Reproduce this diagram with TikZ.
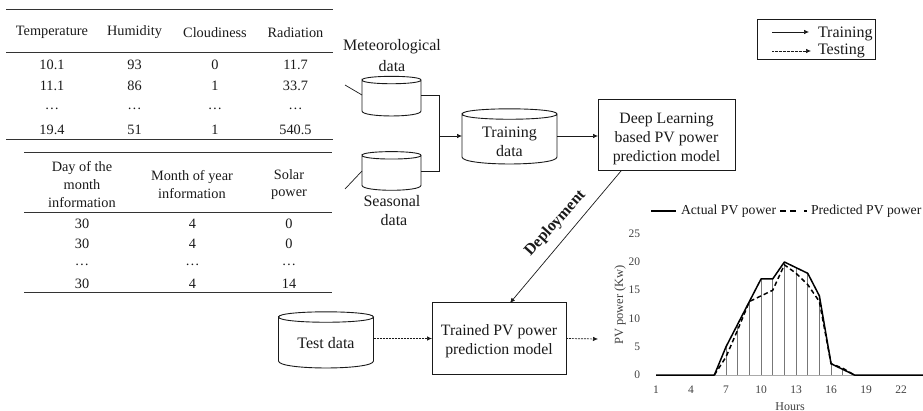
\documentclass[tikz,border=0pt]{standalone}
\usepackage{fontspec}
\setmainfont{Liberation Serif}
\usetikzlibrary{calc,arrows.meta}
\definecolor{ink}{HTML}{1A1A1A}
\definecolor{rulec}{HTML}{333333}
\definecolor{axisc}{HTML}{AAAAAA}
\definecolor{dropc}{HTML}{777777}
\tikzset{
  x=1pt,y=-1pt,
  every node/.style={text=ink,inner sep=0pt,outer sep=0pt},
  txt/.style={font=\fontsize{16}{19}\selectfont,align=center},
  cell/.style={font=\fontsize{14.3}{17.7}\selectfont,align=center},
  tick/.style={font=\fontsize{11.5}{13}\selectfont,text=black!75},
  trule/.style={draw=rulec,line width=0.8pt},
  boxnode/.style={draw=ink,line width=1pt,rectangle,align=center,font=\fontsize{15.8}{18.7}\selectfont},
  cylbase/.style={rectangle,align=center,font=\fontsize{16}{19}\selectfont},
  cylline/.style={draw=ink,line width=0.9pt},
  conn/.style={draw=ink,line width=0.7pt},
  arr/.style={conn,-{Latex[length=5pt,width=4.5pt]}},
  tarr/.style={conn,dash pattern=on 2pt off 1pt,-{Latex[length=5pt,width=4.5pt]}},
}
% #1 node name, #2 vertical half-axis of the ellipses
\newcommand{\drumoutline}[2]{%
  \draw[cylline] ($(#1.north west)+(0,#2)$)
     .. controls ($(#1.north west)+(0,0.1)$) and ($(#1.north east)+(0,0.1)$) .. ($(#1.north east)+(0,#2)$)
     .. controls ($(#1.north east)+(0,2*#2)$) and ($(#1.north west)+(0,2*#2)$) .. ($(#1.north west)+(0,#2)$)
     -- ($(#1.south west)+(0,-#2)$)
     .. controls ($(#1.south west)+(0,0.33*#2)$) and ($(#1.south east)+(0,0.33*#2)$) .. ($(#1.south east)+(0,-#2)$)
     -- ($(#1.north east)+(0,#2)$);}
\newcommand{\toppad}[1]{\rule{0pt}{#1pt}}
\begin{document}
\begin{tikzpicture}
\useasboundingbox (0,0) rectangle (923,411);
% Table 1
\coordinate (ta) at (6,9); \coordinate (tb) at (333,9);
\coordinate (tc) at (6,52); \coordinate (td) at (333,52);
\coordinate (te) at (6,139); \coordinate (tf) at (333,139);
\draw[trule] (ta)--(tb); \draw[trule] (tc)--(td); \draw[trule] (te)--(tf);
\foreach \n/\x/\a/\b/\c/\d/\e in {A/52/Temperature/10.1/11.1/{…}/19.4,B/134.5/Humidity/93/86/{…}/51,C/215/Cloudiness/0/1/{…}/1,D/295.5/Radiation/11.7/33.7/{…}/540.5}{
  \node[cell] (h\n) at (\x,32.2) {\a};
  \node[cell] (r\n1) at (\x,64.5) {\b};
  \node[cell] (r\n2) at (\x,86) {\c};
  \node[cell] (r\n3) at (\x,109) {\d};
  \node[cell] (r\n4) at (\x,129.5) {\e};
}
% Table 2
\coordinate (ua) at (24,152); \coordinate (ub) at (332,152);
\coordinate (uc) at (24,212); \coordinate (ud) at (332,212);
\coordinate (ue) at (24,292); \coordinate (uf) at (332,292);
\draw[trule] (ua)--(ub); \draw[trule] (uc)--(ud); \draw[trule] (ue)--(uf);
\node[cell] (k1) at (82,184.5) {Day of the\\month\\information};
\node[cell] (k2) at (192,184.5) {Month of year\\information};
\node[cell] (k3) at (289,184.5) {Solar\\power};
\foreach \n/\x/\a/\b/\c/\d in {E/82/30/30/{…}/30,F/192.5/4/4/{…}/4,G/289/0/0/{…}/14}{
  \node[cell] (s\n1) at (\x,223.5) {\a};
  \node[cell] (s\n2) at (\x,243.5) {\b};
  \node[cell] (s\n3) at (\x,265) {\c};
  \node[cell] (s\n4) at (\x,283.5) {\d};
}
% Cylinders
\node[cylbase,minimum width=59pt,minimum height=41pt] (met) at (391.5,95.5) {};
\node[cylbase,minimum width=59pt,minimum height=40pt] (sea) at (391.5,170.3) {};
\node[cylbase,minimum width=95pt,minimum height=57pt] (train) at (509.5,135.5) {\toppad{23}Training\\data};
\node[cylbase,minimum width=95pt,minimum height=58pt] (test) at (326,339) {\toppad{19}Test data};
\drumoutline{met}{5}
\drumoutline{sea}{5}
\drumoutline{train}{7}
\drumoutline{test}{7}
\node[txt] (metl) at (392,47) {Meteorological};
\node[txt] (metm) at (392,66) {data};
\node[txt] (seal) at (392,201.5) {Seasonal};
\node[txt] (seam) at (394,220.5) {data};
% Boxes
\node[boxnode,minimum width=137pt,minimum height=71pt] (dl) at (666.5,135.5) {\toppad{17}Deep Learning\\based PV power\\prediction model};
\node[boxnode,minimum width=134pt,minimum height=71pt] (pv) at (499,338.5) {\toppad{17}Trained PV power\\prediction model};
% Connectors
\coordinate (free1) at (345,85); \coordinate (m1) at (362,95);
\coordinate (free2) at (345,189); \coordinate (m2) at (362,171);
\coordinate (j) at (439,136);
\coordinate (out) at (598,339);
\draw[conn] (free1)--(m1);
\draw[conn] (free2)--(m2);
\draw[conn] (met.east |- m1) -- (j |- m1) -- (j |- m2) -- (sea.east |- m2);
\draw[arr] (j)--(train.west |- j);
\draw[arr] (train.east |- j)--(dl.west |- j);
\coordinate (dstart) at (621,171); \coordinate (dend) at (510,303);
\draw[arr] (dstart)--(dend);
\node[font=\bfseries\fontsize{16}{18}\selectfont,rotate=48] (dep) at (555.5,223.5) {Deployment};
\draw[tarr] (test.east |- pv)--(pv.west);
\draw[tarr] (pv.east)--(out);
% Legend
\node[draw=ink,line width=0.9pt,minimum width=118pt,minimum height=40pt] (leg) at (816,39) {};
\coordinate (la) at (772,32); \coordinate (lb) at (809,32);
\coordinate (lc) at (772,51); \coordinate (ld) at (811,51);
\draw[arr] (la)--(lb);
\draw[conn,dash pattern=on 2pt off 0.7pt on 0.6pt off 0.7pt,-{Latex[length=5pt,width=4.5pt]}] (lc)--(ld);
\node[txt,anchor=west] (ltr) at (818,34) {Training};
\node[txt,anchor=west] (lte) at (818,50.5) {Testing};
% Chart
\begin{scope}[shift={(644.33,375)},x=11.67pt,y=5.65pt]
  \draw[axisc,line width=0.8pt] (1,0)--(24,0);
  \foreach \h/\v in {7/5,8/9,9/13,10/17,11/17,12/20,13/19,14/18,15/14,16/2,17/1}
    \draw[dropc,line width=0.7pt] (\h,0)--(\h,\v);
  \draw[black,line width=1.5pt,dash pattern=on 4.5pt off 3pt]
    (6,0)--(7,3.2)--(8,8)--(9,13)--(10,14)--(11,15)--(12,19.5)--(13,18)--(14,16)--(15,13)--(16,2)--(17,1.2)--(18,0);
  \draw[black,line width=1.5pt,line join=round]
    (1,0)--(6,0)--(7,5)--(8,9)--(9,13)--(10,17)--(11,17)--(12,20)--(13,19)--(14,18)--(15,14)--(16,2)--(17,1)--(18,0)--(24,0);
  \foreach \h in {1,4,7,10,13,16,19,22}
    \node[tick] (x\h) at (\h,-2.6) {\h};
  \foreach \v in {0,5,10,15,20,25}
    \node[tick,anchor=east] (y\v) at (-0.37,\v) {\v};
\end{scope}
\node[tick,font=\fontsize{12}{13}\selectfont] (xl) at (790,406.5) {Hours};
\node[tick,font=\fontsize{12.5}{14}\selectfont,rotate=90] (yl) at (620,305) {PV power (Kw)};
\coordinate (a1) at (651,211); \coordinate (a2) at (676,211);
\coordinate (p1) at (780,211); \coordinate (p2) at (806,211);
\draw[black,line width=1.5pt] (a1)--(a2);
\draw[black,line width=1.5pt,dash pattern=on 6pt off 4pt on 6pt off 8pt on 1.5pt off 0pt] (p1)--(p2);
\node[font=\fontsize{13.7}{15}\selectfont,anchor=west] (al) at (681,211) {Actual PV power};
\node[font=\fontsize{13.7}{15}\selectfont,anchor=west] (pl) at (811,211) {Predicted PV power};
\end{tikzpicture}
\end{document}
